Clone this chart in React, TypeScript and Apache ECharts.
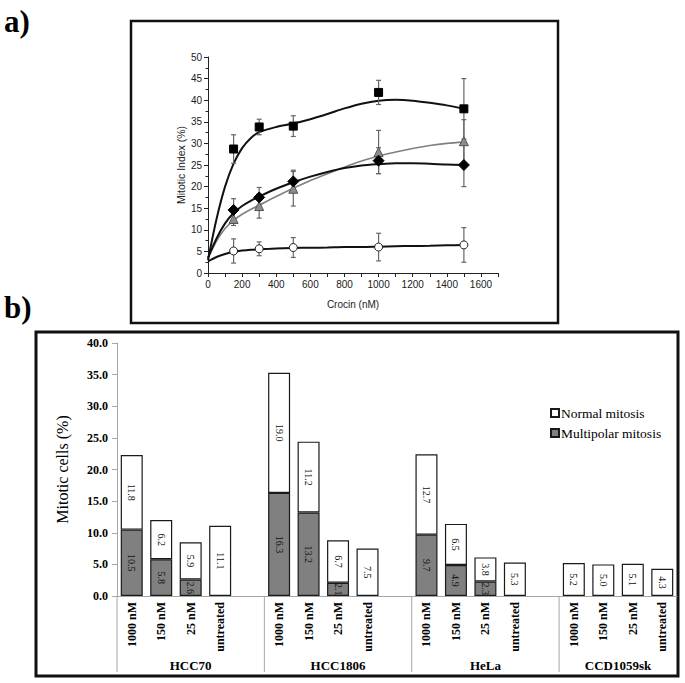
import React, { useEffect, useRef } from 'react';
import * as echarts from 'echarts';

// ---------- Panel a) data ----------
const doseX = [150, 300, 500, 1000, 1500];
const squareMean = [28.7, 33.8, 34.0, 41.8, 38.0];
const squareErr = [3.3, 1.8, 2.4, 2.8, 7.0];
const diamondMean = [14.6, 17.5, 21.2, 26.0, 25.0];
const diamondErr = [2.6, 2.3, 2.6, 3.0, 5.0];
const triangleMean = [12.5, 15.5, 19.5, 28.0, 30.5];
const triangleErr = [1.5, 2.8, 4.0, 5.0, 5.0];
const circleMean = [5.1, 5.6, 5.9, 6.0, 6.5];
const circleErr = [2.8, 1.6, 2.3, 3.2, 4.0];

const fitX = [0, 50, 100, 150, 200, 250, 300, 400, 500, 600, 700, 800, 900, 1000, 1100, 1200, 1300, 1400, 1500];
const squareFit = [3.0, 12.5, 20.0, 25.3, 28.9, 31.2, 32.6, 33.8, 34.6, 35.6, 36.8, 38.1, 39.2, 39.9, 40.1, 39.9, 39.4, 38.8, 38.0];
const diamondFit = [3.5, 8.0, 11.5, 13.9, 15.5, 16.7, 17.7, 19.5, 21.0, 22.3, 23.4, 24.3, 24.9, 25.2, 25.4, 25.4, 25.3, 25.1, 25.0];
const triangleFit = [3.5, 7.4, 10.3, 12.2, 13.6, 14.7, 15.7, 17.7, 19.6, 21.4, 23.0, 24.5, 25.9, 27.1, 28.0, 28.8, 29.5, 30.0, 30.3];
const circleFit = [2.7, 3.7, 4.4, 4.9, 5.2, 5.4, 5.5, 5.7, 5.8, 5.85, 5.9, 6.0, 6.0, 6.1, 6.2, 6.25, 6.3, 6.4, 6.5];

const xTicksA = [0, 200, 400, 600, 800, 1000, 1200, 1400, 1600];

// ---------- Panel b) data ----------
const cellLines = ['HCC70', 'HCC1806', 'HeLa', 'CCD1059sk'];
const treatments = ['1000 nM', '150 nM', '25 nM', 'untreated'];
const multipolarMitosis = [10.5, 5.8, 2.6, null, 16.3, 13.2, 2.1, null, 9.7, 4.9, 2.3, null, null, null, null, null];
const normalMitosis = [11.8, 6.2, 5.9, 11.1, 19.0, 11.2, 6.7, 7.5, 12.7, 6.5, 3.8, 5.3, 5.2, 5.0, 5.1, 4.3];
const yTicksB = [0, 5, 10, 15, 20, 25, 30, 35, 40];

const SERIF = 'Liberation Serif';
const SANS = 'Liberation Sans';

// build 19 slots: each cell line has 4 treatments, with an empty spacer after the first three
const slotLabels: string[] = [];
const slotMulti: (number | null)[] = [];
const slotNormal: (number | null)[] = [];
const groupRanges: number[][] = [];
cellLines.forEach((_, g) => {
  const start = slotLabels.length;
  treatments.forEach((t, i) => {
    slotLabels.push(t);
    slotMulti.push(multipolarMitosis[g * 4 + i]);
    slotNormal.push(normalMitosis[g * 4 + i]);
  });
  if (g < cellLines.length - 1) {
    slotLabels.push('');
    slotMulti.push(null);
    slotNormal.push(null);
  }
  groupRanges.push([start, slotLabels.length]);
});
const nSlots = slotLabels.length;

const errData = (mean: number[], err: number[]) =>
  doseX.map((x, i) => [x, mean[i] - err[i], mean[i] + err[i]]);
const pts = (ys: number[]) => doseX.map((x, i) => [x, ys[i]]);
const fit = (ys: number[]) => fitX.map((x, i) => [x, ys[i]]);

const errorBarSeries = (mean: number[], err: number[]) => ({
  type: 'custom',
  xAxisIndex: 0,
  yAxisIndex: 0,
  data: errData(mean, err),
  renderItem: (_p: any, api: any) => {
    const lo = api.coord([api.value(0), api.value(1)]);
    const hi = api.coord([api.value(0), api.value(2)]);
    const c = 2.5;
    const st = { stroke: '#666666', lineWidth: 1.2 };
    return {
      type: 'group',
      children: [
        { type: 'line', shape: { x1: lo[0], y1: lo[1], x2: hi[0], y2: hi[1] }, style: st },
        { type: 'line', shape: { x1: lo[0] - c, y1: lo[1], x2: lo[0] + c, y2: lo[1] }, style: st },
        { type: 'line', shape: { x1: hi[0] - c, y1: hi[1], x2: hi[0] + c, y2: hi[1] }, style: st },
      ],
    };
  },
  z: 3,
});

const fitSeries = (ys: number[], color: string, width: number) => ({
  type: 'line',
  xAxisIndex: 0,
  yAxisIndex: 0,
  data: fit(ys),
  smooth: 0.3,
  showSymbol: false,
  symbol: 'none',
  lineStyle: { color, width },
  z: 2,
});

const markerSeries = (ys: number[], symbol: string, size: number, fill: string, border: string) => ({
  type: 'scatter',
  xAxisIndex: 0,
  yAxisIndex: 0,
  data: pts(ys),
  symbol,
  symbolSize: size,
  itemStyle: { color: fill, borderColor: border, borderWidth: 1, opacity: 1 },
  z: 4,
});

const barLabel = {
  show: true,
  position: 'inside',
  rotate: -90,
  fontFamily: SERIF,
  fontSize: 10,
  color: '#111',
  formatter: (p: any) => (p.value == null ? '' : Number(p.value).toFixed(1)),
};

const option: any = {
  animation: false,
  backgroundColor: '#ffffff',
  graphic: [
    { type: 'rect', shape: { x: 131, y: 21, width: 427, height: 302 }, style: { fill: 'none', stroke: '#111', lineWidth: 2.5 }, silent: true },
    { type: 'rect', shape: { x: 36, y: 332, width: 642, height: 344 }, style: { fill: 'none', stroke: '#111', lineWidth: 3 }, silent: true },
    { type: 'text', left: 4, top: 6, style: { text: 'a)', font: `bold 31px ${SERIF}`, fill: '#000' } },
    { type: 'text', left: 4, top: 292, style: { text: 'b)', font: `bold 31px ${SERIF}`, fill: '#000' } },
  ],
  legend: {
    data: ['Normal mitosis', 'Multipolar mitosis'],
    orient: 'vertical',
    left: 545,
    top: 401,
    itemWidth: 8,
    itemHeight: 8,
    itemGap: 6,
    icon: 'rect',
    textStyle: { fontFamily: SERIF, fontSize: 13.5, color: '#000', padding: [0, 0, 0, -3] },
  },
  grid: [
    { left: 208, top: 57, width: 290, height: 216 },
    { left: 117, top: 343, width: 560, height: 253 },
  ],
  xAxis: [
    {
      gridIndex: 0,
      type: 'value',
      min: 0,
      max: 1700,
      interval: 100,
      name: 'Crocin (nM)',
      nameLocation: 'middle',
      nameGap: 26,
      nameTextStyle: { fontFamily: SANS, fontSize: 10, color: '#222' },
      axisLine: { lineStyle: { color: '#222', width: 1 } },
      axisTick: { length: 4, lineStyle: { color: '#222' } },
      axisLabel: {
        margin: 6,
        fontFamily: SANS,
        fontSize: 10,
        color: '#222',
        formatter: (v: number) => (xTicksA.indexOf(v) >= 0 ? String(v) : ''),
      },
      splitLine: { show: false },
    },
    {
      gridIndex: 1,
      type: 'category',
      data: slotLabels,
      axisLine: { lineStyle: { color: '#a6a6a6', width: 1 } },
      axisTick: { show: false },
      axisLabel: { rotate: 90, interval: 0, margin: 6, fontFamily: SERIF, fontWeight: 'bold', fontSize: 12, color: '#000' },
      splitLine: { show: false },
    },
    { gridIndex: 1, type: 'value', min: 0, max: nSlots, show: false },
  ],
  yAxis: [
    {
      gridIndex: 0,
      type: 'value',
      min: 0,
      max: 50,
      interval: 5,
      name: 'Mitotic Index (%)',
      nameLocation: 'middle',
      nameGap: 22,
      nameTextStyle: { fontFamily: SANS, fontSize: 10.5, color: '#222' },
      axisLine: { show: true, lineStyle: { color: '#222', width: 1 } },
      axisTick: { show: true, length: 4, lineStyle: { color: '#222' } },
      minorTick: { show: true, splitNumber: 2, length: 2.5, lineStyle: { color: '#222' } },
      axisLabel: { margin: 6, fontFamily: SANS, fontSize: 10, color: '#222' },
      splitLine: { show: false },
    },
    {
      gridIndex: 1,
      type: 'value',
      min: 0,
      max: 40,
      interval: 5,
      name: 'Mitotic cells (%)',
      nameLocation: 'middle',
      nameGap: 47,
      nameTextStyle: { fontFamily: SERIF, fontSize: 16, color: '#000' },
      axisLine: { show: true, lineStyle: { color: '#a6a6a6', width: 1 } },
      axisTick: { show: true, length: 5, lineStyle: { color: '#a6a6a6' } },
      axisLabel: {
        margin: 9,
        fontFamily: SERIF,
        fontWeight: 'bold',
        fontSize: 12,
        color: '#000',
        formatter: (v: number) => (yTicksB.indexOf(v) >= 0 ? v.toFixed(1) : ''),
      },
      splitLine: { show: false },
    },
  ],
  series: [
    fitSeries(circleFit, '#111', 2),
    fitSeries(triangleFit, '#808080', 1.6),
    fitSeries(diamondFit, '#111', 2),
    fitSeries(squareFit, '#111', 2),
    errorBarSeries(circleMean, circleErr),
    errorBarSeries(triangleMean, triangleErr),
    errorBarSeries(diamondMean, diamondErr),
    errorBarSeries(squareMean, squareErr),
    markerSeries(circleMean, 'circle', 8, '#ffffff', '#222'),
    markerSeries(triangleMean, 'triangle', 9, '#8c8c8c', '#555'),
    markerSeries(diamondMean, 'diamond', 11, '#000', '#000'),
    markerSeries(squareMean, 'rect', 8, '#000', '#000'),
    {
      name: 'Multipolar mitosis',
      type: 'bar',
      xAxisIndex: 1,
      yAxisIndex: 1,
      stack: 'mitosis',
      data: slotMulti,
      barWidth: 22,
      itemStyle: { color: '#808080', borderColor: '#1a1a1a', borderWidth: 1.2 },
      label: barLabel,
    },
    {
      name: 'Normal mitosis',
      type: 'bar',
      xAxisIndex: 1,
      yAxisIndex: 1,
      stack: 'mitosis',
      data: slotNormal,
      barWidth: 22,
      itemStyle: { color: '#ffffff', borderColor: '#1a1a1a', borderWidth: 1.2 },
      label: barLabel,
    },
    {
      type: 'custom',
      xAxisIndex: 2,
      yAxisIndex: 1,
      data: groupRanges,
      clip: false,
      renderItem: (params: any, api: any) => {
        const s = api.coord([api.value(0), 0]);
        const e = api.coord([api.value(1), 0]);
        return {
          type: 'group',
          children: [
            { type: 'line', shape: { x1: s[0], y1: s[1], x2: s[0], y2: s[1] + 76 }, style: { stroke: '#a6a6a6', lineWidth: 1 } },
            {
              type: 'text',
              style: {
                text: cellLines[params.dataIndex],
                x: (s[0] + e[0]) / 2,
                y: s[1] + 69,
                align: 'center',
                verticalAlign: 'middle',
                font: `bold 13px ${SERIF}`,
                fill: '#000',
              },
            },
          ],
        };
      },
    },
  ],
};

export default function App() {
  const ref = useRef<HTMLDivElement>(null);
  useEffect(() => {
    if (!ref.current) return;
    const chart = echarts.init(ref.current, null, { renderer: 'svg' });
    chart.setOption(option);
    return () => chart.dispose();
  }, []);
  return (
    <div
      ref={ref}
      style={{ position: 'absolute', left: 0, top: 0, width: 685, height: 683, background: '#fff' }}
    />
  );
}
